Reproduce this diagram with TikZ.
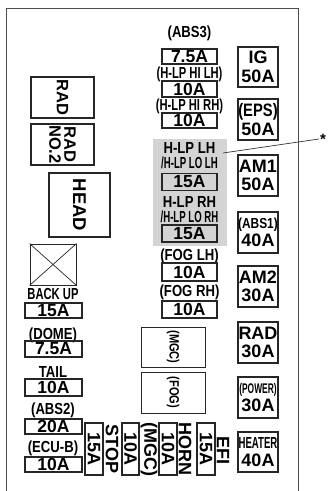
\documentclass[tikz,border=0pt]{standalone}
\usepackage{fontspec}
\setmainfont{Liberation Sans}
\newfontfamily\cnd[FakeStretch=0.82]{Liberation Sans}
\newfontfamily\mcnd[FakeStretch=0.70]{Liberation Sans}
\newfontfamily\xcnd[FakeStretch=0.60]{Liberation Sans}
\begin{document}
\begin{tikzpicture}[x=1pt,y=-1pt,
  fb/.style={draw=black!85,line width=1.1pt,inner sep=0pt},
  amp/.style={font=\fontsize{17.5}{17.5}\selectfont\bfseries,inner sep=0pt},
  vamp/.style={font=\fontsize{18}{18}\selectfont\bfseries,inner sep=0pt,rotate=-90},
  lbl/.style={font=\cnd\fontsize{16}{16}\selectfont\bfseries,inner sep=0pt},
  mlbl/.style={font=\mcnd\fontsize{16}{16}\selectfont\bfseries,inner sep=0pt},
  xlbl/.style={font=\xcnd\fontsize{16}{16}\selectfont\bfseries,inner sep=0pt},
  big/.style={font=\fontsize{18}{18.5}\selectfont\bfseries,align=center,inner sep=0pt},
  rbox/.style={fb,minimum width=40pt,minimum height=41pt},
  mbox/.style={fb,minimum width=55pt},
  lbox/.style={fb,minimum width=57pt},
  vbox/.style={fb,minimum width=18pt,minimum height=52pt},
]
\useasboundingbox (0,0) rectangle (330,491);
\clip (0,0) rectangle (330,491);
% frame
\draw[black!70,line width=0.9pt] (6,500) -- (6,8) -- (298,8) -- (298,500);
% gray region
\fill[black!17] (153,139) rectangle (227,246);

% ---------- left column ----------
\node[fb,minimum width=63pt,minimum height=41pt] (rad) at (62.5,97.5) {};
\node[font=\fontsize{16.5}{16}\selectfont\bfseries,rotate=-90,inner sep=0pt] at (rad) {RAD};
\node[fb,minimum width=63pt,minimum height=41pt] (rad2) at (62.5,144.5) {};
\node[font=\fontsize{16.5}{15}\selectfont\bfseries,rotate=-90,inner sep=0pt,align=center] at (rad2) {RAD\\NO.2};
\node[fb,minimum width=61pt,minimum height=64pt] (head) at (79.5,205) {};
\node[font=\fontsize{18.5}{18}\selectfont\bfseries,rotate=-90,inner sep=0pt] at (head) {HEAD};
\node[fb,line width=0.9pt,minimum width=46pt,minimum height=41pt] (xb) at (53,264.5) {};
\draw[black!85,line width=0.7pt] (xb.north west) -- (xb.south east);
\draw[black!85,line width=0.7pt] (xb.north east) -- (xb.south west);
\node[mlbl] (lbk) at (53,294) {BACK UP};
\node[lbox,minimum height=15pt] (bk) at (53.5,310.5) {};
\node[amp] at (bk) {15A};
\node[lbl] (ldome) at (53,335) {(DOME)};
\node[lbox,minimum height=16pt] (dome) at (53.5,349) {};
\node[amp] at (dome) {7.5A};
\node[lbl] (ltail) at (53,372) {TAIL};
\node[lbox,minimum height=17pt] (tail) at (53.5,387.5) {};
\node[amp] at (tail) {10A};
\node[lbl] (labs2) at (53,410) {(ABS2)};
\node[lbox,minimum height=15pt] (abs2) at (53.5,426.5) {};
\node[amp] at (abs2) {20A};
\node[lbl] (lecu) at (53,448) {(ECU-B)};
\node[lbox,minimum height=15pt] (ecu) at (53.5,464.5) {};
\node[amp] at (ecu) {10A};

% ---------- middle column ----------
\node[lbl] (labs3) at (189.5,33) {(ABS3)};
\node[mbox,minimum height=15pt] (abs3) at (189.5,56.5) {};
\node[amp] at (abs3) {7.5A};
\node[mlbl] (lhilh) at (189.5,74) {(H-LP HI LH)};
\node[mbox,minimum height=16pt] (hilh) at (189.5,89) {};
\node[amp] at (hilh) {10A};
\node[mlbl] (lhirh) at (189.5,106) {(H-LP HI RH)};
\node[mbox,minimum height=15pt] (hirh) at (189.5,120.5) {};
\node[amp] at (hirh) {10A};
\node[lbl] (llh1) at (189.5,148) {H-LP LH};
\node[xlbl] (llh2) at (189.5,163) {/H-LP LO LH};
\node[mbox,minimum height=17pt] (lh) at (189.5,182) {};
\node[amp] at (lh) {15A};
\node[lbl] (lrh1) at (189.5,202) {H-LP RH};
\node[xlbl] (lrh2) at (189.5,217) {/H-LP LO RH};
\node[mbox,minimum height=17pt] (rh) at (189.5,233.5) {};
\node[amp] at (rh) {15A};
\node[lbl] (lfoglh) at (189.5,256) {(FOG LH)};
\node[mbox,minimum height=18pt] (foglh) at (189.5,272) {};
\node[amp] at (foglh) {10A};
\node[lbl] (lfogrh) at (189.5,292) {(FOG RH)};
\node[mbox,minimum height=17pt] (fogrh) at (189.5,309.5) {};
\node[amp] at (fogrh) {10A};
\node[fb,line width=0.9pt,minimum width=64pt,minimum height=40pt] (mgcr) at (173,347) {};
\node[font=\cnd\fontsize{13.5}{13}\selectfont\bfseries,rotate=-90,inner sep=0pt] at (mgcr) {(MGC)};
\node[fb,line width=0.9pt,minimum width=64pt,minimum height=41pt] (fogr) at (173,392.5) {};
\node[font=\cnd\fontsize{13.5}{13}\selectfont\bfseries,rotate=-90,inner sep=0pt] at (fogr) {(FOG)};

% leader line and asterisk
\coordinate (ls) at (223,153);
\node[font=\fontsize{15}{15}\selectfont\bfseries,inner sep=1pt] (ast) at (323,139) {*};
\draw[black!80,line width=0.7pt] (ls) -- (ast.west);

% ---------- right column ----------
\node[rbox,minimum height=40pt] (ig) at (258,67) {};
\node[big] at (ig) {IG\\50A};
\node[rbox] (eps) at (258,119.5) {};
\node[big] at (eps) {{\cnd (EPS)}\\50A};
\node[rbox] (am1) at (258,175.5) {};
\node[big] at (am1) {AM1\\50A};
\node[rbox] (abs1) at (258,232.5) {};
\node[big] at (abs1) {{\cnd\fontsize{14.5}{14}\selectfont (ABS1)}\\40A};
\node[rbox] (am2) at (258,286.5) {};
\node[big] at (am2) {AM2\\30A};
\node[rbox] (rad30) at (258,342.5) {};
\node[big] at (rad30) {RAD\\30A};
\node[rbox] (pow) at (258,397.5) {};
\node[big] at (pow) {{\xcnd\fontsize{14}{13}\selectfont (POWER)}\\30A};
\node[rbox,minimum height=40pt] (heat) at (258,452) {};
\node[big] at (heat) {{\xcnd\fontsize{16}{15}\selectfont HEATER}\\40A};

% ---------- bottom vertical fuses ----------
\node[vbox] (stop) at (94,449) {};
\node[vamp] at (stop) {15A};
\node[vamp] (lstop) at (112,449) {STOP};
\node[vbox,minimum width=17pt] (mgc) at (130.5,449) {};
\node[vamp] at (mgc) {10A};
\node[vamp] (lmgc) at (149,449) {(MGC)};
\node[vbox] (horn) at (168,449) {};
\node[vamp] at (horn) {10A};
\node[vamp] (lhorn) at (185,449) {HORN};
\node[vbox] (efi) at (206,449) {};
\node[vamp] at (efi) {15A};
\node[vamp] (lefi) at (223,450) {EFI};
\end{tikzpicture}
\end{document}
